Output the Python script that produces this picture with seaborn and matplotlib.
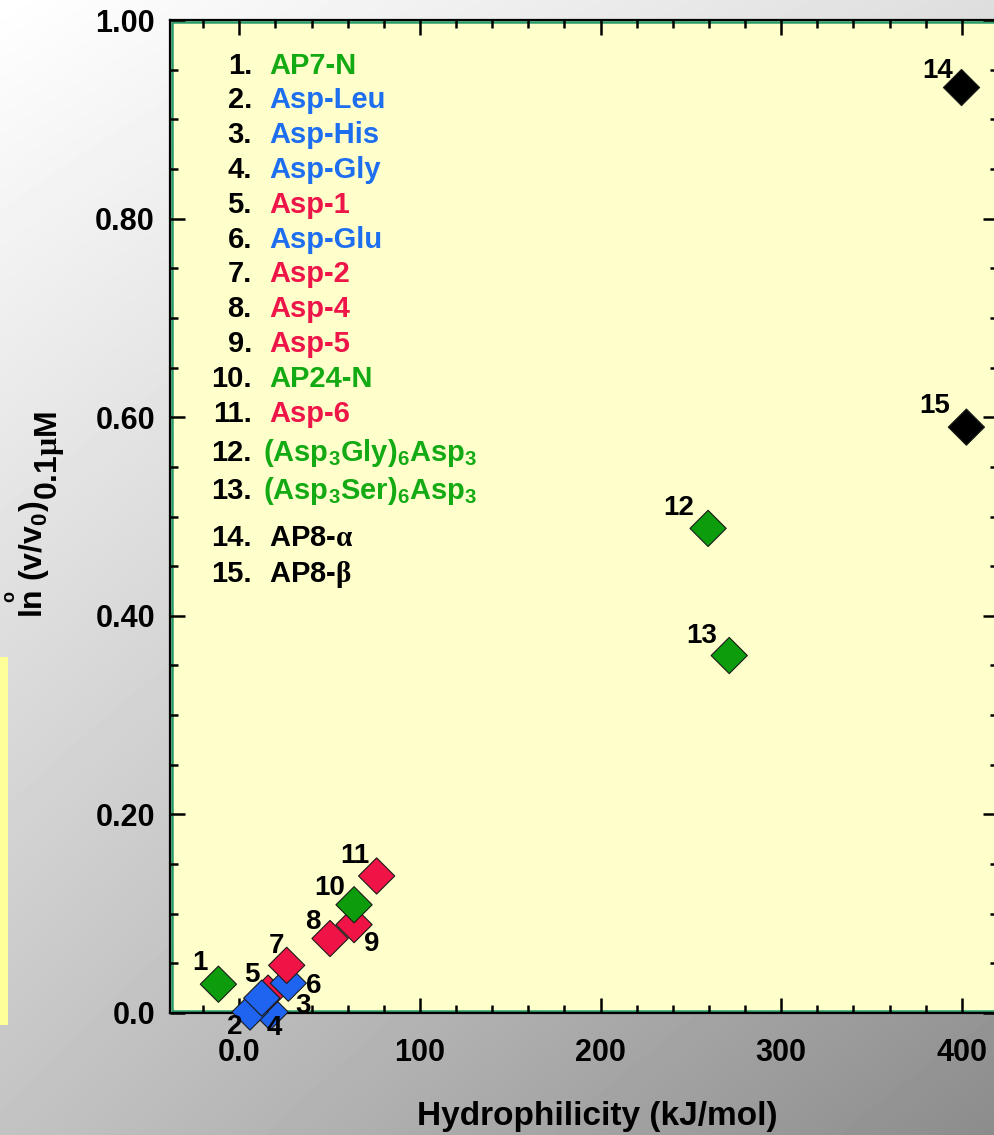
import numpy as np
import pandas as pd
import matplotlib
matplotlib.use("Agg")
import matplotlib.pyplot as plt
import seaborn as sns
from matplotlib.patches import Rectangle
from matplotlib.ticker import MultipleLocator

# ---- data ----
numbers = list(range(1, 16))
names = [
    "AP7-N", "Asp-Leu", "Asp-His", "Asp-Gly", "Asp-1", "Asp-Glu", "Asp-2",
    "Asp-4", "Asp-5", "AP24-N", "Asp-6",
    r"(Asp$_3$Gly)$_6$Asp$_3$", r"(Asp$_3$Ser)$_6$Asp$_3$",
    r"AP8-$\mathrm{\alpha}$", r"AP8-$\mathrm{\beta}$",
]
groups = ["green", "blue", "blue", "blue", "red", "blue", "red", "red", "red",
          "green", "red", "green", "green", "black", "black"]
hydrophilicity = [-11.6, 5.9, 12.4, 17.0, 15.9, 27.1, 26.2, 50.2, 63.5, 63.5,
                  76.0, 259.5, 271.2, 399.8, 402.5]
ln_ratio = [0.029, 0.001, 0.015, 0.001, 0.020, 0.030, 0.048, 0.075, 0.089,
            0.109, 0.138, 0.488, 0.360, 0.932, 0.590]
xtick_values = [0, 100, 200, 300, 400]
xtick_labels = ["0.0", "100", "200", "300", "400"]
ytick_values = [0.0, 0.2, 0.4, 0.6, 0.8, 1.0]
ytick_labels = ["0.0", "0.20", "0.40", "0.60", "0.80", "1.00"]

# ---- styling ----
marker_colors = {"green": "#0c9c0c", "blue": "#1f64f0", "red": "#f01446", "black": "#000000"}
text_colors = {"green": "#14aa14", "blue": "#1e6ef0", "red": "#ee1548", "black": "#000000"}
# label offsets from each marker centre, in pixels (right, down)
label_offsets = [(-18, -24), (-15, 12), (41, 5), (4, 13), (-16, -21), (25, 0),
                 (-10, -22), (-17, -20), (18, 16), (-24, -20), (-22, -23),
                 (-29, -23), (-28, -23), (-24, -20), (-32, -24)]
draw_order = [0, 3, 1, 4, 2, 5, 6, 7, 8, 9, 10, 11, 12, 13, 14]
row_centres = [63.7 + 34.8 * i for i in range(11)] + [450.8, 489.0, 535.7, 571.7]

sns.set_theme(style="ticks")
plt.rcParams["font.family"] = ["Liberation Sans", "DejaVu Sans"]
plt.rcParams["font.weight"] = "bold"
plt.rcParams["text.color"] = "black"
plt.rcParams["axes.labelcolor"] = "black"
plt.rcParams["xtick.color"] = "black"
plt.rcParams["ytick.color"] = "black"
plt.rcParams["mathtext.fontset"] = "custom"
plt.rcParams["mathtext.rm"] = "Liberation Serif"
plt.rcParams["mathtext.bf"] = "Liberation Sans:bold"
plt.rcParams["mathtext.it"] = "Liberation Sans:italic:bold"
plt.rcParams["mathtext.default"] = "bf"

W, H = 994, 1135
fig = plt.figure(figsize=(W / 100, H / 100), dpi=100)


def fx(px):
    return px / W


def fy(py):
    return 1 - py / H


# grey gradient backdrop
bg = fig.add_axes([0, 0, 1, 1], zorder=-10)
bg.set_axis_off()
u = np.linspace(0, 1, 256)[None, :]
v = np.linspace(0, 1, 256)[:, None]
tl, tr, bl, br = 255, 222, 195, 140
shade = tl * (1 - u) * (1 - v) + tr * u * (1 - v) + bl * (1 - u) * v + br * u * v
bg.imshow(shade, cmap="gray", vmin=0, vmax=255, extent=[0, 1, 0, 1],
          aspect="auto", interpolation="bilinear")
bg.set_xlim(0, 1)
bg.set_ylim(0, 1)
bg.add_patch(Rectangle((0, fy(1025)), fx(8), (1025 - 657) / H,
                       color="#ffff99", lw=0))

# main plot
ax = fig.add_axes([fx(170), fy(1013), 828 / W, 993 / H])
ax.set_facecolor("#ffffcc")
ax.set_axisbelow(False)

df = pd.DataFrame({"num": numbers, "group": groups,
                   "x": hydrophilicity, "y": ln_ratio})
sns.scatterplot(data=df.iloc[draw_order], x="x", y="y", hue="group",
                palette=marker_colors, marker="D", s=340, edgecolor="#1a1a1a",
                linewidth=0.8, legend=False, ax=ax, clip_on=False, zorder=3)

for n, xv, yv, (dx, dy) in zip(numbers, hydrophilicity, ln_ratio, label_offsets):
    ax.annotate(str(n), (xv, yv), xytext=(dx, -(dy + 10)),
                textcoords="offset pixels", ha="center", va="baseline",
                fontsize=20, fontweight="bold", color="black", zorder=4,
                annotation_clip=False)

ax.set_xlim(-38.4, 420)
ax.set_ylim(0, 1)
ax.set_xticks(xtick_values, xtick_labels)
ax.set_yticks(ytick_values, ytick_labels)
ax.xaxis.set_minor_locator(MultipleLocator(20))
ax.yaxis.set_minor_locator(MultipleLocator(0.05))
ax.tick_params(which="both", direction="in", top=True, right=True,
               width=1.8, color="black", labelsize=22, labelcolor="black")
ax.tick_params(which="major", length=11)
ax.tick_params(which="minor", length=5.5)
ax.tick_params(axis="x", pad=18)
ax.tick_params(axis="y", pad=10.8)
ax.set_xlabel("")
ax.set_ylabel("")
for s in ax.spines.values():
    s.set_linewidth(1.6)
    s.set_color("black")
ix, iy = 2.4 / 828, 2.4 / 993
ax.add_patch(Rectangle((ix, iy), 1 - 2 * ix, 1 - 2 * iy, transform=ax.transAxes,
                       fill=False, ec="#2a9a6c", lw=1.8, zorder=1.2, clip_on=False))

# numbered key
for i, (n, name, g) in enumerate(zip(numbers, names, groups)):
    base = row_centres[i] + 10
    fig.text(fx(252), fy(base), f"{n}.", ha="right", va="baseline",
             fontsize=21, fontweight="bold", color="black")
    x0 = 263 if "$_" in name else 269
    fig.text(fx(x0), fy(base), name, ha="left", va="baseline",
             fontsize=21, fontweight="bold", color=text_colors[g])

# axis titles
fig.text(fx(597.5), fy(1124.5), "Hydrophilicity (kJ/mol)", ha="center",
         va="baseline", fontsize=24, fontweight="bold", color="black")
t1 = fig.text(fx(42), fy(618), r"ln (v/v$_0$)", rotation=90,
              rotation_mode="anchor", ha="left", va="baseline",
              fontsize=23, fontweight="bold", color="black")
fig.canvas.draw()
bb = t1.get_window_extent()
fig.text(fx(57), (bb.y1 + 1) / H, r"0.1$\mathrm{\mu}$M", rotation=90,
         rotation_mode="anchor", ha="left", va="baseline",
         fontsize=23, fontweight="bold", color="black")
fig.text(fx(10), fy(597), "o", rotation=90, ha="center", va="center",
         fontsize=13, fontweight="bold", color="black")

fig.savefig("out.png", dpi=100)
